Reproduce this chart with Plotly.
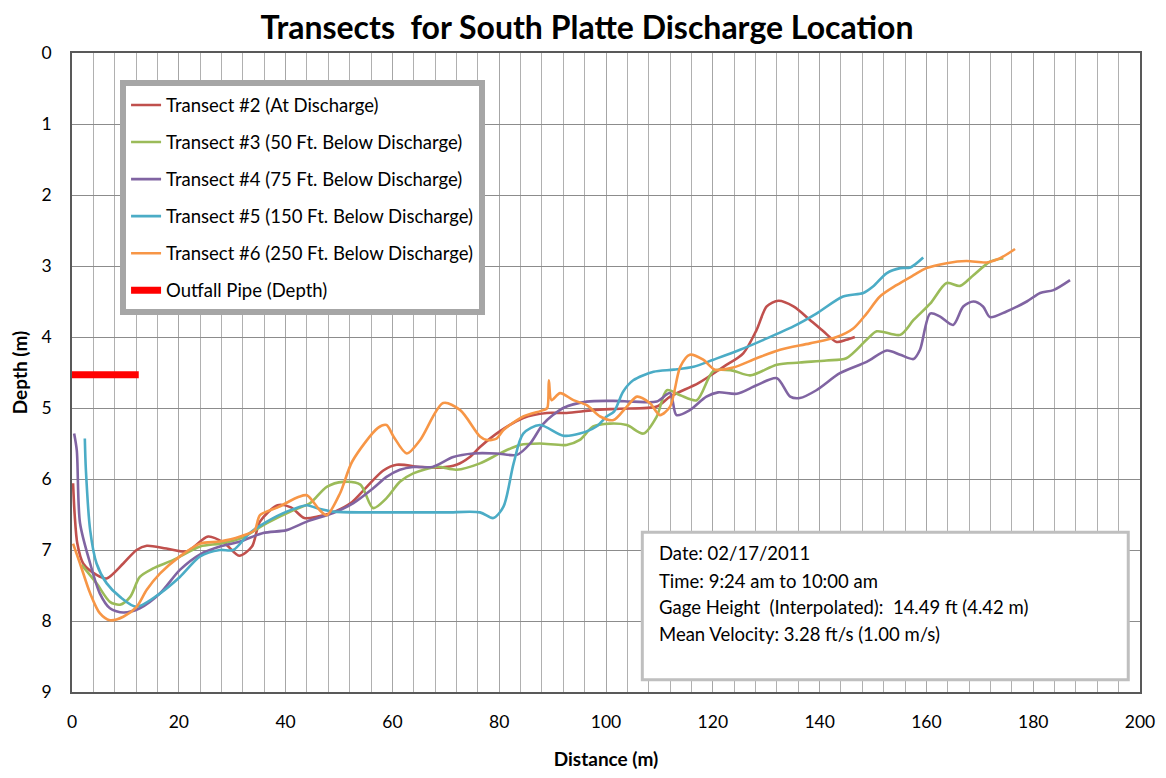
import plotly.graph_objects as go

# ---------------- data ----------------
t2_x = [0.2, 0.5, 1.0, 2.1, 4.6, 6.5, 9.6, 12.1, 14.0, 17.7, 21.5, 25.5, 28.5, 31.3, 33.7, 35.2, 38.5, 41.0, 43.5, 46.0,
        48.5, 52.2, 55.2, 58.3, 60.8, 65.2, 69.0, 72.0, 74.5, 76.4, 80.1, 84.5, 88.9, 92.6, 97.6, 102.6, 109.5, 112.0,
        117.3, 122.0, 125.7, 128.2, 130.1, 132.3, 135.1, 138.2, 140.7, 143.2, 145.0, 146.6]
t2_y = [6.06, 6.5, 6.91, 7.19, 7.35, 7.40, 7.19, 7.0, 6.94, 6.98, 7.02, 6.81, 6.9, 7.08, 6.95, 6.6, 6.37, 6.4, 6.55, 6.53,
        6.48, 6.34, 6.11, 5.88, 5.80, 5.83, 5.84, 5.80, 5.69, 5.55, 5.33, 5.14, 5.07, 5.07, 5.03, 5.01, 4.98, 4.84,
        4.65, 4.42, 4.23, 3.90, 3.57, 3.49, 3.57, 3.76, 3.92, 4.07, 4.04, 4.00]

t3_x = [1.8, 4.6, 7.1, 9.0, 10.9, 12.7, 15.2, 19.0, 24.0, 27.7, 31.5, 36.5, 41.4, 44.6, 47.7, 50.8, 54.0, 56.4, 58.9,
        61.4, 63.9, 68.3, 72.0, 76.4, 80.1, 83.9, 87.6, 92.6, 95.1, 97.6, 100.7, 103.9, 107.0, 109.5, 111.4, 113.9,
        117.0, 120.1, 123.5, 127.0, 132.0, 136.3, 141.3, 145.0, 148.8, 150.7, 155.1, 157.6, 160.7, 163.8, 166.3,
        168.8, 171.9, 174.4]
t3_y = [7.21, 7.47, 7.73, 7.77, 7.66, 7.38, 7.26, 7.14, 6.95, 6.91, 6.84, 6.62, 6.44, 6.34, 6.11, 6.04, 6.08, 6.41, 6.27,
        6.04, 5.92, 5.83, 5.87, 5.78, 5.64, 5.52, 5.50, 5.52, 5.45, 5.26, 5.22, 5.24, 5.36, 5.12, 4.75, 4.82,
        4.89, 4.48, 4.47, 4.54, 4.39, 4.36, 4.33, 4.30, 4.04, 3.92, 3.97, 3.76, 3.53, 3.24, 3.28,
        3.13, 2.94, 2.89]

t4_x = [0.4, 0.9, 1.5, 3.4, 5.2, 7.1, 9.6, 12.7, 16.5, 20.2, 24.0, 27.7, 31.5, 35.8, 40.2, 44.0, 48.9, 52.7, 56.4,
        58.9, 61.4, 63.9, 67.5, 71.4, 75.1, 79.5, 83.3, 85.8, 88.3, 92.0, 96.4, 101.4, 105.1, 109.5, 112.0, 113.2,
        115.7, 118.8, 121.0, 124.5, 128.2, 132.0, 134.5, 136.3, 139.4, 143.8, 148.8, 152.6, 155.1, 157.6, 158.8,
        160.7, 162.5, 165.0, 166.9, 168.8, 170.6, 171.9, 175.0, 178.8, 181.3, 183.8, 186.9]
t4_y = [5.36, 5.6, 6.62, 7.19, 7.61, 7.82, 7.88, 7.82, 7.61, 7.28, 7.06, 6.95, 6.88, 6.76, 6.72, 6.60, 6.48, 6.34, 6.13,
        5.97, 5.87, 5.83, 5.83, 5.69, 5.64, 5.64, 5.66, 5.50, 5.22, 5.00, 4.91, 4.90, 4.91, 4.91, 4.79, 5.10,
        5.03, 4.84, 4.78, 4.80, 4.68, 4.58, 4.84, 4.86, 4.75, 4.51, 4.35, 4.19, 4.25, 4.31, 4.18,
        3.67, 3.71, 3.83, 3.57, 3.50, 3.57, 3.72, 3.64, 3.50, 3.38, 3.34, 3.20]

t5_x = [2.4, 2.6, 3.4, 4.6, 6.5, 9.0, 12.1, 16.5, 20.2, 24.0, 27.7, 30.2, 33.3, 36.5, 40.2, 44.0, 45.8, 48.9, 55.2,
        61.4, 70.0, 76.4, 78.9, 80.8, 82.7, 84.5, 87.6, 92.0, 95.1, 98.2, 100.1, 101.5, 103.2, 105.1, 108.9, 112.7,
        116.4, 120.1, 125.1, 129.5, 135.1, 139.4, 144.4, 148.2, 150.0, 152.6, 155.1, 157.0, 159.4]
t5_y = [5.43, 5.87, 6.72, 7.19, 7.47, 7.66, 7.80, 7.61, 7.38, 7.09, 7.00, 7.00, 6.76, 6.60, 6.46, 6.37, 6.41, 6.46, 6.47,
        6.47, 6.47, 6.47, 6.55, 6.39, 5.78, 5.36, 5.24, 5.39, 5.36, 5.26, 5.12, 5.05, 4.77, 4.61, 4.49, 4.46,
        4.42, 4.32, 4.18, 4.04, 3.85, 3.67, 3.43, 3.38, 3.29, 3.10, 3.03, 3.02, 2.88]

t6_x = [0.2, 1.5, 3.4, 5.2, 7.1, 9.6, 12.1, 14.0, 16.5, 20.2, 24.0, 27.7, 31.5, 34.2, 35.2, 38.5, 42.5, 44.0, 46.4,
        47.7, 50.2, 52.5, 57.3, 58.9, 60.2, 62.7, 65.2, 69.5, 72.7, 76.4, 77.7, 79.5, 80.8, 84.5, 88.3, 89.0, 89.3,
        89.8, 91.4, 93.9, 96.4, 98.9, 101.4, 103.9, 105.8, 108.2, 110.1, 112.0, 113.9, 115.7, 118.2, 120.4, 123.8,
        128.2, 132.6, 138.2, 143.2, 146.3, 148.8, 151.3, 154.4, 157.6, 160.0, 163.8, 167.5, 171.3, 173.8, 176.6]
t6_y = [6.91, 7.19, 7.61, 7.89, 7.99, 7.94, 7.80, 7.56, 7.33, 7.09, 6.91, 6.88, 6.81, 6.72, 6.51, 6.40, 6.25, 6.23, 6.44,
        6.51, 6.20, 5.75, 5.28, 5.24, 5.40, 5.64, 5.45, 4.93, 5.03, 5.40, 5.45, 5.43, 5.31, 5.12, 5.03, 5.0, 4.61,
        4.89, 4.79, 4.89, 4.96, 5.12, 5.17, 4.98, 4.84, 4.93, 5.10, 4.98, 4.42, 4.25, 4.32, 4.46, 4.43,
        4.30, 4.18, 4.09, 4.00, 3.88, 3.67, 3.43, 3.27, 3.13, 3.03, 2.96, 2.93, 2.95, 2.89, 2.76]

pipe_x = [0.0, 12.5]
pipe_y = [4.53, 4.53]

series_names = [
    "Transect #2 (At Discharge)",
    "Transect #3 (50 Ft. Below Discharge)",
    "Transect #4 (75 Ft. Below Discharge)",
    "Transect #5 (150 Ft. Below Discharge)",
    "Transect #6 (250 Ft. Below Discharge)",
    "Outfall Pipe (Depth)",
]
series_colors = ["#C0504D", "#9BBB59", "#8064A2", "#4BACC6", "#F79646", "#FF0000"]

info_lines = [
    "Date: 02/17/2011",
    "Time: 9:24 am to 10:00 am",
    "Gage Height  (Interpolated):  14.49 ft (4.42 m)",
    "Mean Velocity: 3.28 ft/s (1.00 m/s)",
]

FONT = "Lato, Calibri, 'Open Sans', sans-serif"

fig = go.Figure()
xs = [t2_x, t3_x, t4_x, t5_x, t6_x]
ys = [t2_y, t3_y, t4_y, t5_y, t6_y]
for i, (x, y) in enumerate(zip(xs, ys)):
    fig.add_trace(go.Scatter(
        x=x, y=y, mode="lines", name=series_names[i], legendgroup=str(i),
        line=dict(color=series_colors[i], width=2.6, shape="spline", smoothing=0.8),
    ))
fig.add_trace(go.Scatter(
    x=pipe_x, y=pipe_y, mode="lines", name=series_names[5], legendgroup="5",
    line=dict(color=series_colors[5], width=7),
))

# info box
fig.add_shape(type="rect", xref="paper", yref="paper", x0=0.534, x1=0.989, y0=0.019, y1=0.250,
              line=dict(color="#BFBFBF", width=3), fillcolor="white", layer="above")
line_ys = [0.2175, 0.1737, 0.133, 0.0908]
for txt, yy in zip(info_lines, line_ys):
    fig.add_annotation(xref="paper", yref="paper", x=0.548, y=yy, text=txt, showarrow=False,
                       xanchor="left", yanchor="middle", font=dict(family=FONT, size=18.5, color="#000000"))

fig.update_layout(
    width=1158, height=762,
    margin=dict(l=64, r=26, t=45, b=78),
    paper_bgcolor="white", plot_bgcolor="white",
    font=dict(family=FONT, size=17.5, color="#000000"),
    title=dict(text="<b>Transects  for South Platte Discharge Location</b>", x=0.5, xanchor="center",
               y=0.974, yanchor="middle", font=dict(family=FONT, size=32, color="#000000")),
    showlegend=True,
    legend=dict(x=0.045, y=0.957, xanchor="left", yanchor="top", bgcolor="white",
                bordercolor="#A6A6A6", borderwidth=6, tracegroupgap=10,
                font=dict(family=FONT, size=18.5, color="#000000")),
    xaxis=dict(range=[0, 200], dtick=20, tick0=0, showgrid=True, gridcolor="#A6A6A6", gridwidth=1,
               minor=dict(dtick=4, showgrid=True, gridcolor="#B0B0B0", gridwidth=1),
               showline=True, linecolor="#595959", linewidth=1.5, mirror=True, zeroline=False,
               ticks="", tickfont=dict(family=FONT, size=17.5), ticklabelstandoff=13, automargin=False,
               title=dict(text="<b>Distance (m)</b>", font=dict(family=FONT, size=19), standoff=29)),
    yaxis=dict(range=[9, 0], dtick=1, tick0=0, showgrid=True, gridcolor="#8C8C8C", gridwidth=1,
               showline=True, linecolor="#595959", linewidth=1.5, mirror=True, zeroline=False,
               ticks="", tickfont=dict(family=FONT, size=17.5), ticklabelstandoff=15, automargin=False,
               title=dict(text="<b>Depth (m)</b>", font=dict(family=FONT, size=19), standoff=14)),
)

fig.write_html("out.html")
